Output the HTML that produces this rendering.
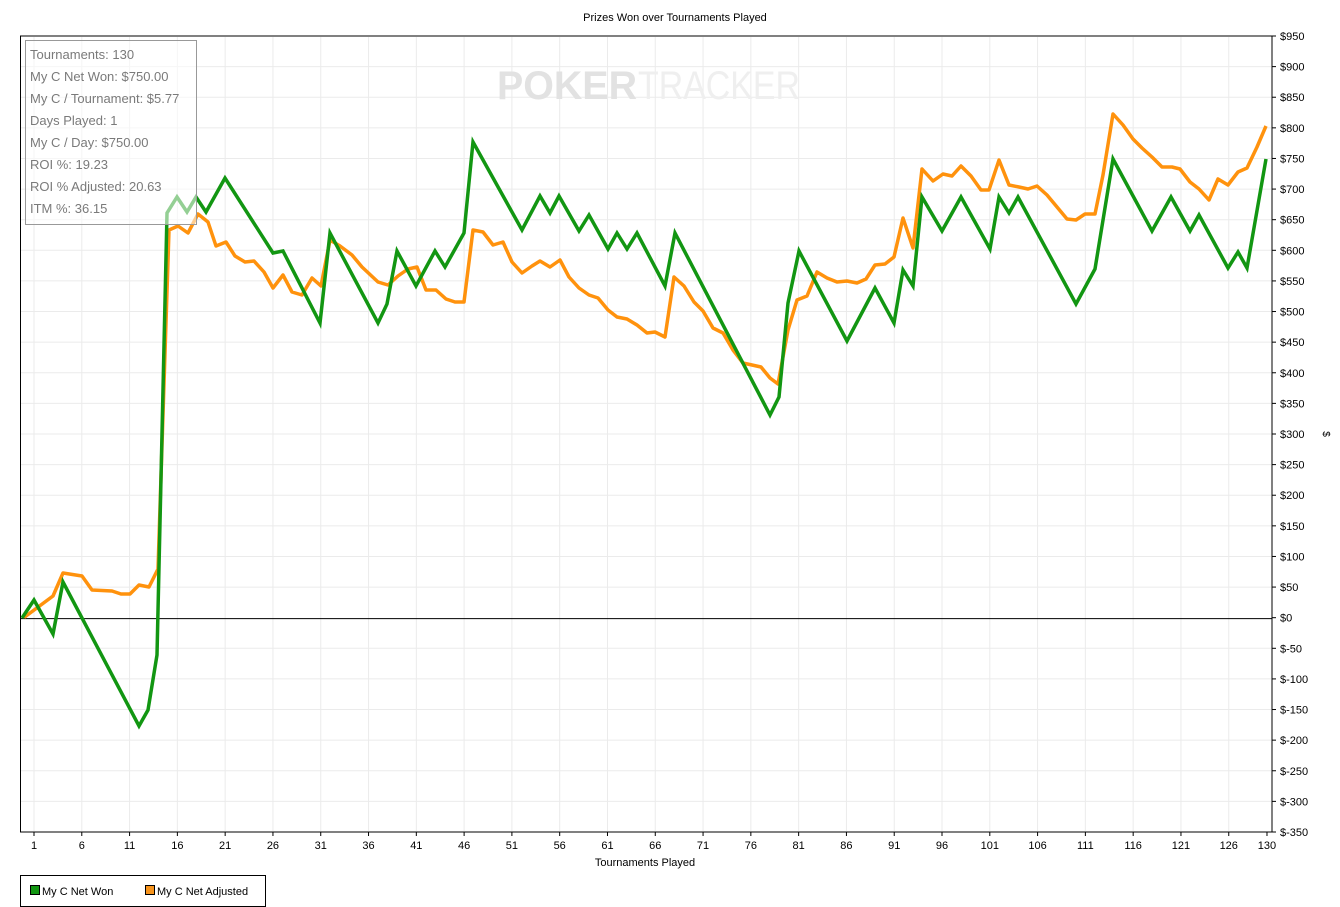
<!DOCTYPE html>
<html><head><meta charset="utf-8"><style>
html,body{margin:0;padding:0;background:#fff;}
svg{display:block;font-family:"Liberation Sans",sans-serif;}
</style></head><body>
<svg width="1340" height="907" xmlns="http://www.w3.org/2000/svg">
<rect width="1340" height="907" fill="#fff"/>
<text x="675" y="21" font-size="11" text-anchor="middle" fill="#000">Prizes Won over Tournaments Played</text>
<g id="grid" stroke="#ebebeb" stroke-width="1"></g>
<text x="497" y="99" font-size="40" font-weight="bold" fill="#e2e2e2" textLength="140" lengthAdjust="spacingAndGlyphs">POKER</text>
<text x="638" y="99" font-size="40" fill="#efefef" textLength="162" lengthAdjust="spacingAndGlyphs">TRACKER</text>
<line x1="20" y1="618.6" x2="1272" y2="618.6" stroke="#000" stroke-width="1"/>
<polyline fill="none" stroke="#ff8c00" stroke-opacity="0.95" stroke-width="3.5" stroke-linejoin="round" points="24,617.5 53,596 63,573 82,576 92,590 112,591 121,594 130,594 139,585 149,587 158,569 169,230 178,226 188,233 198,214 208,222 216,246 226,242 235,256 245,262 254,261 264,272 273,288 283,275 292,292 302,295 312,278 321,286 330,240 340,246 352,255 362,267 378,282 388,285 398,276 408,269 417,267 426,290 436,290 446,299 455,302 464,302 473,230 483,232 493,245 503,242 512,262 522,273 532,266 540,261 550,267 560,260 569,277 579,288 589,295 598,298 608,310 617,317 627,319 637,325 647,333 655,332 665,337 674,277 684,286 694,302 703,311 713,328 723,333 733,350 743,363 752,365 761,367 770,378 778,384 788,330 797,300 807,296 817,272 827,278 837,282 847,281 857,283 866,279 875,265 885,264 894,257 903,218 913,248 922,169 933,181 943,174 952,176 961,166 971,176 981,190 989,190 999,160 1009,185 1019,187 1028,189 1037,186 1047,195 1057,207 1067,219 1076,220 1085,214 1095,214 1103,175 1113,114 1123,125 1133,139 1142,148 1152,157 1162,167 1172,167 1180,169 1190,182 1199,189 1209,200 1218,179 1228,185 1238,172 1247,168 1257,147 1266,126"/>
<polyline fill="none" stroke="#129612" stroke-width="3.5" stroke-linejoin="miter" points="22,618 34,600 53,634 63,582 139,726 148,710 157,655 167,213 177,197 187,212 196,197 206,212 225,178 273,253 283,251 320,323 330,233 378,323 387,304 397,251 416,286 435,251 445,267 464,233 473,142 522,230 540,196 550,213 559,196 579,231 589,215 608,249 617,233 627,249 637,233 665,286 675,233 770,415 779,397 788,303 799,251 847,341 875,288 894,323 903,270 913,286 922,197 942,231 961,197 990,249 999,197 1009,213 1018,197 1076,304 1095,269 1113,159 1152,231 1171,197 1190,231 1199,215 1228,268 1238,252 1247,268 1266,159"/>
<rect x="20.5" y="36" width="1251.5" height="796" fill="none" stroke="#000" stroke-width="1"/>
<rect x="25.5" y="40.5" width="171" height="184" fill="#fff" fill-opacity="0.55" stroke="#999" stroke-width="1"/>
<g font-size="13" fill="#7a7a7a">
<text x="30" y="59">Tournaments: 130</text>
<text x="30" y="81">My C Net Won: $750.00</text>
<text x="30" y="103">My C / Tournament: $5.77</text>
<text x="30" y="125">Days Played: 1</text>
<text x="30" y="147">My C / Day: $750.00</text>
<text x="30" y="169">ROI %: 19.23</text>
<text x="30" y="191">ROI % Adjusted: 20.63</text>
<text x="30" y="213">ITM %: 36.15</text>
</g>
<g id="yax" font-size="11" fill="#000"></g>
<g id="xax" font-size="11" fill="#000" text-anchor="middle"></g>
<text x="645" y="866" font-size="11" text-anchor="middle">Tournaments Played</text>
<text x="1323" y="434" font-size="10" text-anchor="middle" transform="rotate(90 1323 434)">$</text>
<rect x="20.5" y="875.5" width="245" height="31" fill="#fff" stroke="#000" stroke-width="1"/>
<rect x="30.5" y="885.5" width="9" height="9" fill="#129612" stroke="#000"/>
<text x="42" y="895" font-size="11">My C Net Won</text>
<rect x="145.5" y="885.5" width="9" height="9" fill="#f7941d" stroke="#000"/>
<text x="157" y="895" font-size="11">My C Net Adjusted</text>
<script>
(function(){
var ns="http://www.w3.org/2000/svg";
var g=document.getElementById('grid'),ya=document.getElementById('yax'),xa=document.getElementById('xax');
function el(p,t,a){var e=document.createElementNS(ns,t);for(var k in a)e.setAttribute(k,a[k]);p.appendChild(e);return e;}
for(var v=950;v>=-350;v-=50){
 var y=36+(950-v)*0.6123;
 if(v!==0&&v!==950&&v!==-350) el(g,'line',{x1:21,x2:1271,y1:y,y2:y});
 el(ya,'line',{x1:1272,x2:1276,y1:y,y2:y,stroke:'#000'});
 var t=el(ya,'text',{x:1280,y:y+4});t.textContent='$'+v;
}
var ticks=[1,6,11,16,21,26,31,36,41,46,51,56,61,66,71,76,81,86,91,96,101,106,111,116,121,126,130];
ticks.forEach(function(n){
 var x=34+(n-1)*9.558;
 if(n!==130) el(g,'line',{x1:x,x2:x,y1:37,y2:831});
 el(xa,'line',{x1:x,x2:x,y1:832,y2:836,stroke:'#000'});
 var t=el(xa,'text',{x:x,y:849});t.textContent=n;
});
})();
</script>
</svg>
</body></html>
